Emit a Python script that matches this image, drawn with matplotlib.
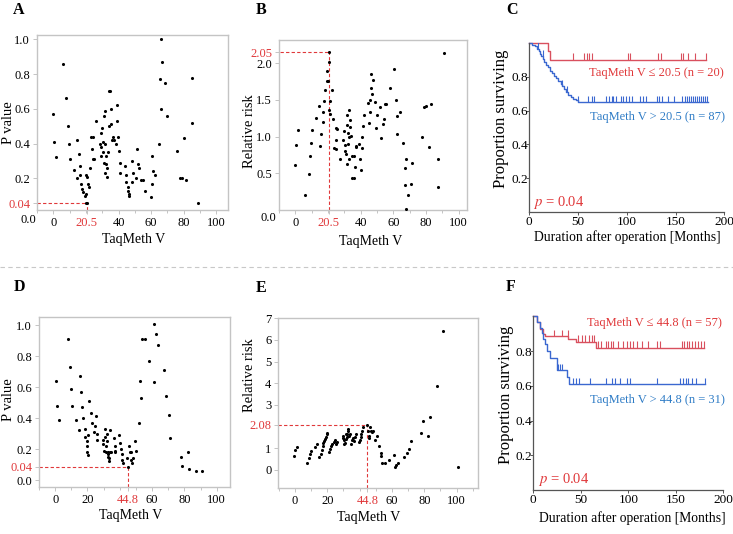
import numpy as np
import matplotlib
matplotlib.use('Agg')
from matplotlib import pyplot as plt

plt.rcParams['font.family'] = ['Liberation Serif', 'DejaVu Serif']
plt.rcParams['mathtext.fontset'] = 'stix'

RED = '#e0383a'
BLUE = '#2f7cc6'
KM_RED = '#d9505e'
KM_BLUE = '#3b68d0'
FRAME = '#c4c4c4'

# ---- A: P value vs TaqMeth V (cut-off 20.5)
a_x = [0.0, 0.6, 1.6, 5.7, 7.8, 9.0, 9.8, 10.0, 12.7, 14.5,
       14.3, 15.7, 16.3, 16.5, 17.1, 17.6, 18.4, 19.4, 19.8, 19.8,
       20.5, 20.2, 20.6, 21.0, 21.6, 22.2, 23.1, 24.5, 23.9, 24.5,
       25.1, 26.3, 28.6, 29.0, 29.2, 29.4, 29.8, 30.2, 30.6, 31.0,
       31.2, 31.4, 31.6, 31.8, 32.2, 32.4, 32.7, 33.1, 33.5, 33.9,
       33.9, 34.9, 35.1, 35.5, 36.1, 36.7, 37.1, 38.4, 38.8, 39.2,
       39.6, 40.0, 40.6, 40.8, 43.7, 44.3, 44.5, 45.5, 45.9, 46.3,
       46.7, 48.2, 48.6, 48.4, 50.4, 51.6, 52.0, 52.7, 53.9, 54.7,
       56.3, 59.6, 60.2, 60.8, 61.2, 62.4, 64.5, 65.3, 65.9, 66.3,
       66.7, 68.4, 69.4, 75.9, 77.6, 78.8, 80.0, 81.2, 85.1, 85.3,
       89.0]
a_y = [0.57, 0.41, 0.32, 0.86, 0.66, 0.50, 0.40, 0.31, 0.25, 0.42,
       0.20, 0.34, 0.27, 0.22, 0.17, 0.14, 0.12, 0.10, 0.11, 0.06,
       0.058, 0.22, 0.21, 0.17, 0.15, 0.26, 0.44, 0.44, 0.37, 0.31,
       0.31, 0.53, 0.40, 0.46, 0.33, 0.38, 0.49, 0.41, 0.35, 0.29,
       0.56, 0.23, 0.59, 0.40, 0.33, 0.28, 0.21, 0.26, 0.35, 0.50,
       0.70, 0.70, 0.60, 0.51, 0.42, 0.44, 0.42, 0.40, 0.62, 0.53,
       0.44, 0.36, 0.29, 0.23, 0.27, 0.22, 0.18, 0.15, 0.13, 0.10,
       0.11, 0.30, 0.23, 0.18, 0.20, 0.37, 0.28, 0.26, 0.19, 0.19,
       0.13, 0.09, 0.17, 0.33, 0.24, 0.22, 0.40, 0.77, 0.60, 1.00,
       0.87, 0.75, 0.56, 0.36, 0.20, 0.20, 0.43, 0.19, 0.78, 0.52,
       0.06]
a_cut = (20.5, 0.058)

# ---- B: relative risk vs TaqMeth V (cut-off 20.5)
b_x = [0.0, 0.6, 1.6, 6.1, 8.2, 9.2, 9.8, 10.0, 12.9, 14.5,
       14.9, 15.9, 16.7, 17.1, 17.8, 18.0, 19.4, 19.6, 20.0, 20.4,
       20.5, 20.8, 21.0, 21.4, 22.4, 22.9, 23.5, 24.7, 24.7, 25.1,
       25.7, 27.1, 29.4, 29.8, 30.2, 30.6, 30.8, 31.4, 31.6, 31.8,
       32.0, 32.4, 32.7, 32.9, 33.1, 33.3, 33.7, 34.3, 34.5, 34.9,
       35.7, 35.7, 36.3, 36.9, 37.3, 38.8, 39.8, 40.2, 40.6, 41.0,
       41.4, 41.8, 44.3, 44.9, 45.5, 45.9, 46.5, 46.5, 46.9, 47.8,
       49.0, 49.2, 50.0, 51.6, 52.7, 53.7, 54.1, 54.7, 55.3, 57.8,
       60.6, 61.4, 62.2, 62.4, 63.9, 65.9, 67.1, 66.9, 67.8, 68.0,
       68.8, 70.8, 71.2, 77.6, 78.6, 80.0, 81.8, 83.1, 87.1, 87.3,
       90.8]
b_y = [0.62, 0.89, 1.09, 0.21, 0.49, 0.73, 0.92, 1.09, 1.26, 1.42,
       0.87, 1.04, 1.20, 1.34, 1.49, 1.64, 1.76, 1.90, 1.76, 2.02,
       2.15, 1.36, 1.31, 1.49, 1.63, 1.24, 0.84, 1.12, 0.96, 0.83,
       1.11, 0.69, 0.95, 1.08, 0.81, 0.89, 0.76, 1.16, 1.30, 0.63,
       0.90, 1.05, 0.70, 1.00, 1.37, 1.23, 1.13, 1.01, 0.73, 0.43,
       0.44, 0.73, 0.58, 0.87, 0.86, 0.90, 0.69, 0.55, 0.84, 0.99,
       1.14, 1.29, 1.46, 1.18, 1.50, 1.33, 1.67, 1.85, 1.58, 1.77,
       1.47, 1.12, 1.30, 1.40, 0.98, 1.17, 1.24, 1.44, 1.44, 1.67,
       1.92, 1.50, 1.28, 1.04, 1.33, 0.92, 0.57, 0.34, 0.70, 0.02,
       0.20, 0.35, 0.64, 0.99, 1.41, 1.42, 0.86, 1.45, 0.32, 0.69,
       2.14]
b_cut = (20.5, 2.15)

# ---- D: P value vs TaqMeth V (cut-off 44.8)
d_x = [0.4, 1.0, 2.1, 8.2, 9.3, 9.9, 10.3, 13.0, 14.8, 15.3,
       16.1, 16.9, 17.3, 18.2, 18.6, 19.4, 19.8, 20.0, 20.2, 20.6,
       21.2, 21.9, 22.7, 24.3, 24.9, 25.4, 25.6, 26.0, 29.5, 29.9,
       30.1, 30.7, 31.1, 31.3, 31.5, 32.0, 32.2, 32.4, 32.8, 33.0,
       33.4, 33.4, 33.8, 34.2, 34.6, 36.5, 36.9, 37.1, 37.3, 39.8,
       40.2, 40.6, 41.2, 41.6, 41.9, 44.7, 44.8, 45.6, 46.2, 46.8,
       47.2, 47.8, 48.0, 49.5, 50.1, 52.0, 52.8, 53.2, 54.0, 55.7,
       57.9, 61.0, 61.4, 62.7, 63.9, 67.4, 68.9, 70.3, 71.3, 77.7,
       78.8, 81.9, 83.1, 87.2, 90.7]
d_y = [0.64, 0.48, 0.39, 0.91, 0.73, 0.59, 0.48, 0.39, 0.32, 0.67,
       0.57, 0.47, 0.40, 0.33, 0.28, 0.25, 0.22, 0.18, 0.16, 0.29,
       0.51, 0.43, 0.37, 0.31, 0.35, 0.41, 0.26, 0.30, 0.26, 0.23,
       0.19, 0.33, 0.28, 0.22, 0.18, 0.25, 0.30, 0.17, 0.18, 0.15,
       0.14, 0.12, 0.18, 0.32, 0.18, 0.27, 0.22, 0.19, 0.18, 0.29,
       0.24, 0.20, 0.17, 0.13, 0.11, 0.14, 0.086, 0.22, 0.18, 0.13,
       0.18, 0.11, 0.14, 0.25, 0.19, 0.37, 0.64, 0.53, 0.91, 0.91,
       0.77, 0.63, 1.01, 0.94, 0.87, 0.71, 0.54, 0.42, 0.27, 0.15,
       0.09, 0.18, 0.07, 0.06, 0.06]
d_cut = (44.8, 0.086)

# ---- E: relative risk vs TaqMeth V (cut-off 44.8)
e_x = [-0.6, 0.0, 1.0, 7.6, 8.9, 9.3, 9.7, 12.4, 13.8, 14.8,
       15.9, 16.5, 17.1, 17.5, 17.9, 18.8, 19.2, 19.6, 20.0, 20.8,
       21.6, 22.3, 23.1, 24.1, 24.7, 25.2, 25.8, 29.5, 29.9, 30.1,
       30.5, 30.9, 31.3, 31.5, 32.0, 32.4, 32.8, 33.0, 33.4, 34.0,
       34.4, 35.1, 35.7, 36.5, 37.1, 37.5, 39.8, 40.2, 40.6, 41.0,
       41.4, 41.9, 44.8, 44.9, 45.6, 46.0, 46.4, 46.8, 47.4, 48.5,
       49.5, 50.5, 52.2, 53.0, 53.4, 53.8, 55.9, 58.1, 61.2, 62.1,
       62.7, 63.7, 67.6, 69.1, 70.3, 71.8, 78.1, 79.2, 82.5, 83.5,
       88.0, 91.3, 100.6]
e_y = [0.65, 0.91, 1.06, 0.30, 0.53, 0.73, 0.88, 1.06, 1.18, 0.59,
       0.76, 0.94, 1.09, 1.24, 1.34, 1.44, 1.52, 1.64, 1.71, 0.83,
       0.99, 1.09, 1.18, 1.29, 1.37, 1.21, 1.29, 1.49, 1.59, 1.18,
       1.37, 1.23, 1.44, 1.67, 1.52, 1.67, 1.78, 1.90, 1.59, 1.67,
       1.21, 1.37, 1.47, 1.34, 1.52, 1.67, 1.29, 1.40, 1.52, 1.67,
       1.82, 1.97, 2.08, 1.82, 1.47, 1.59, 1.97, 1.82, 1.75, 1.78,
       1.37, 1.59, 1.11, 0.79, 0.64, 0.30, 0.30, 0.46, 0.68, 0.15,
       0.23, 0.33, 0.58, 0.80, 0.99, 1.32, 1.71, 2.28, 1.59, 2.46,
       3.89, 6.43, 0.12]
e_cut = (44.8, 2.08)

# ---- C: Kaplan-Meier, cut-off 20.5
c_low_t = [19, 21]
c_low_s = [0.95, 0.90]
c_low_cens = [44.5, 56.3, 58.8, 61.5, 63.9, 100.8, 103.2, 132.2, 134.6,
              155.1, 157.8, 162.9, 169.8, 181]
c_high_t = [3, 6, 8, 10, 11, 12.5, 14, 15.5, 17, 19, 21, 23, 25, 27, 29.5,
            32, 34, 36, 38, 40, 42.5, 45, 47.5, 50]
c_high_s = [0.99, 0.98, 0.965, 0.95, 0.935, 0.92, 0.905, 0.89, 0.87, 0.855,
            0.835, 0.82, 0.805, 0.79, 0.775, 0.76, 0.745, 0.725, 0.71, 0.695,
            0.68, 0.67, 0.66, 0.65]
c_high_cens = [8.6, 13.7, 34, 39, 50, 60, 64, 66.8, 78.7, 82, 84.5, 86, 88.8,
               93.9, 96.3, 99, 102.4, 105.8, 113.6, 117, 119.8, 130.7, 133.5,
               136.6, 142.7, 147.9, 156.5, 160, 162, 164, 166, 168, 170, 172,
               174, 176, 178, 180, 182]

# ---- F: Kaplan-Meier, cut-off 44.8
f_low_t = [4.2, 7, 9.8, 12.3, 37, 45, 66.5]
f_low_s = [0.965, 0.93, 0.90, 0.885, 0.87, 0.855, 0.82]
f_low_cens = [21.8, 30.5, 36.8, 46.7, 51.6, 54.4, 59, 61.5, 63.9, 68.5, 71.3,
              76.5, 78.9, 81.5, 83.6, 88.8, 94.7, 98.2, 101.8, 105.2, 108.8,
              114.1, 121, 129.9, 133.4, 156.2, 159, 161.5, 164.2, 166.7,
              170.2, 173.7, 176.5, 179.7]
f_high_t = [3.5, 7, 8.8, 10.5, 12.3, 14, 17.5, 24.5, 35, 38]
f_high_s = [0.968, 0.935, 0.903, 0.871, 0.839, 0.80, 0.758, 0.69, 0.652, 0.61]
f_high_cens = [26.3, 28.1, 29.9, 41.5, 44.9, 48.4, 59.7, 76.5, 82.5, 86, 91.3,
               98.3, 101.8, 129.9, 154.4, 157.9, 160.7, 163.2, 166.7, 171.3,
               180.7]

W, H = 733, 534
fig = plt.figure(figsize=(W / 100, H / 100), dpi=100)


def rect(left, top, right, bottom):
    return [left / W, 1 - bottom / H, (right - left) / W, (bottom - top) / H]


def ftext(x, y, s, **kw):
    fig.text(x / W, 1 - y / H, s, ha=kw.pop('ha', 'center'),
             va=kw.pop('va', 'center'), **kw)


def scatter_panel(ax, x, y, cut, xlim, ylim, xticks, xlabels, red_x,
                  yticks, ylabels, red_y):
    ax.scatter(x, y, s=5, color='black', linewidths=0, zorder=3)
    ax.plot([xlim[0], cut[0]], [cut[1], cut[1]], color=RED, lw=0.8,
            dashes=(3, 2))
    ax.plot([cut[0], cut[0]], [ylim[0], cut[1]], color=RED, lw=0.8,
            dashes=(3, 2))
    ax.set_xlim(xlim)
    ax.set_ylim(ylim)
    ax.set_xticks(xticks, labels=xlabels)
    ax.set_xticks(np.arange(-10, xlim[1], 10), minor=True)
    ax.set_yticks(yticks, labels=ylabels)
    for sp in ax.spines.values():
        sp.set_color(FRAME)
        sp.set_linewidth(1.0)
    ax.tick_params(which='both', color=FRAME, labelsize=9, pad=2,
                   length=3, width=0.7)
    ax.tick_params(which='minor', length=2)
    ax.get_xticklabels()[red_x].set_color(RED)
    ax.get_yticklabels()[red_y].set_color(RED)
    ax.get_xticklines()[2 * red_x].set_color(RED)


def km_panel(ax, low, high, end_low, end_high):
    for (t, s, cens), col, end in ((low, KM_RED, end_low),
                                    (high, KM_BLUE, end_high)):
        tt = np.r_[0, t, end]
        ss = np.r_[1.0, s, s[-1]]
        ax.step(tt, ss, where='post', color=col, lw=1.0, clip_on=False)
        k = np.searchsorted(t, cens, side='right')
        sc = np.r_[1.0, s][k]
        ax.vlines(cens, sc, sc + 0.038, color=col, lw=0.8)
    ax.set_xlim(0, 200)
    ax.set_ylim(0, 1.0)
    ax.set_xticks([0, 50, 100, 150, 200])
    ax.set_yticks([0.2, 0.4, 0.6, 0.8])
    ax.set_yticklabels(['0.2', '0.4', '0.6', '0.8'])
    for side in ('top', 'right'):
        ax.spines[side].set_visible(False)
    for side in ('left', 'bottom'):
        ax.spines[side].set_color('#555555')
        ax.spines[side].set_linewidth(0.9)
    ax.tick_params(labelsize=9.5, length=2, width=0.7, color='#555555')
    ax.tick_params(axis='y', pad=-1)
    ax.tick_params(axis='x', pad=1)


# A
axA = fig.add_axes(rect(37, 35, 228, 210))
scatter_panel(axA, a_x, a_y, a_cut, (-9.8, 107.1), (0.018, 1.0245),
              [0, 20.5, 40, 60, 80, 100], ['0', '20.5', '40', '60', '80', '100'], 1,
              [a_cut[1], 0.2, 0.4, 0.6, 0.8, 1.0],
              ['0.04', '0.2', '0.4', '0.6', '0.8', '1.0'], 0)
ftext(28, 220, '0.0', fontsize=9)
ftext(134, 240, 'TaqMeth V', fontsize=10)
ftext(9, 123, 'P value', fontsize=10.5, rotation=90)

# B
axB = fig.add_axes(rect(279, 40, 467, 210))
scatter_panel(axB, b_x, b_y, b_cut, (-9.6, 105.1), (0.0, 2.318),
              [0, 20.5, 40, 60, 80, 100], ['0', '20.5', '40', '60', '80', '100'], 1,
              [0.5, 1.0, 1.5, 2.0, b_cut[1]],
              ['0.5', '1.0', '1.5', '2.0', '2.05'], 4)
ftext(268, 218, '0.0', fontsize=9)
ftext(371, 241, 'TaqMeth V', fontsize=10)
ftext(249, 131, 'Relative risk', fontsize=10.5, rotation=90)

# C
axC = fig.add_axes(rect(529.3, 42.9, 724.3, 212.2))
km_panel(axC, (c_low_t, c_low_s, c_low_cens),
         (c_high_t, c_high_s, c_high_cens), 181.5, 183)
ftext(656, 73, 'TaqMeth V \u2264 20.5 (n = 20)', fontsize=9, color=RED)
ftext(658, 117, 'TaqMeth V > 20.5 (n = 87)', fontsize=9, color=BLUE)
ftext(533, 203, '$p$ = 0.04', fontsize=10.5, color=RED, ha='left')
ftext(627, 237, 'Duration after operation [Months]', fontsize=9.8)
ftext(501, 119, 'Proportion surviving', fontsize=12, rotation=90)

# D
axD = fig.add_axes(rect(39, 316.7, 230, 487.3))
scatter_panel(axD, d_x, d_y, d_cut, (-9.7, 108.2), (-0.047, 1.054),
              [0, 20, 44.8, 60, 80, 100], ['0', '20', '44.8', '60', '80', '100'], 2,
              [0.0, d_cut[1], 0.2, 0.4, 0.6, 0.8, 1.0],
              ['0.0', '0.04', '0.2', '0.4', '0.6', '0.8', '1.0'], 1)
ftext(131, 515, 'TaqMeth V', fontsize=10)
ftext(8, 400, 'P value', fontsize=10.5, rotation=90)

# E
axE = fig.add_axes(rect(278.3, 318.3, 478.3, 488.3))
scatter_panel(axE, e_x, e_y, e_cut, (-10.3, 113.4), (-0.846, 7.0),
              [0, 20, 44.8, 60, 80, 100], ['0', '20', '44.8', '60', '80', '100'], 2,
              [0, 1, e_cut[1], 3, 4, 5, 6, 7],
              ['0', '1', '2.08', '3', '4', '5', '6', '7'], 2)
ftext(369, 518, 'TaqMeth V', fontsize=10)
ftext(249, 375, 'Relative risk', fontsize=10.5, rotation=90)

# F
axF = fig.add_axes(rect(533.3, 316.4, 723.3, 490))
km_panel(axF, (f_low_t, f_low_s, f_low_cens),
         (f_high_t, f_high_s, f_high_cens), 180, 181)
ftext(654, 323, 'TaqMeth V \u2264 44.8 (n = 57)', fontsize=9, color=RED)
ftext(657, 400, 'TaqMeth V > 44.8 (n = 31)', fontsize=9, color=BLUE)
ftext(538, 479, '$p$ = 0.04', fontsize=10.5, color=RED, ha='left')
ftext(632, 518, 'Duration after operation [Months]', fontsize=9.8)
ftext(506, 395, 'Proportion surviving', fontsize=12, rotation=90)

# panel letters
for letter, px, py in (('A', 19, 10), ('B', 261, 10), ('C', 512, 10),
                       ('D', 19, 287), ('E', 261, 288), ('F', 511, 287)):
    ftext(px, py, letter, fontsize=11.5, fontweight='bold')

# dashed separator between rows
fig.add_artist(plt.Line2D([0, 1], [1 - 267 / H, 1 - 267 / H], color='#c8c8c8',
                          lw=0.8, dashes=(4, 3)))

fig.savefig('out.png', dpi=100)
